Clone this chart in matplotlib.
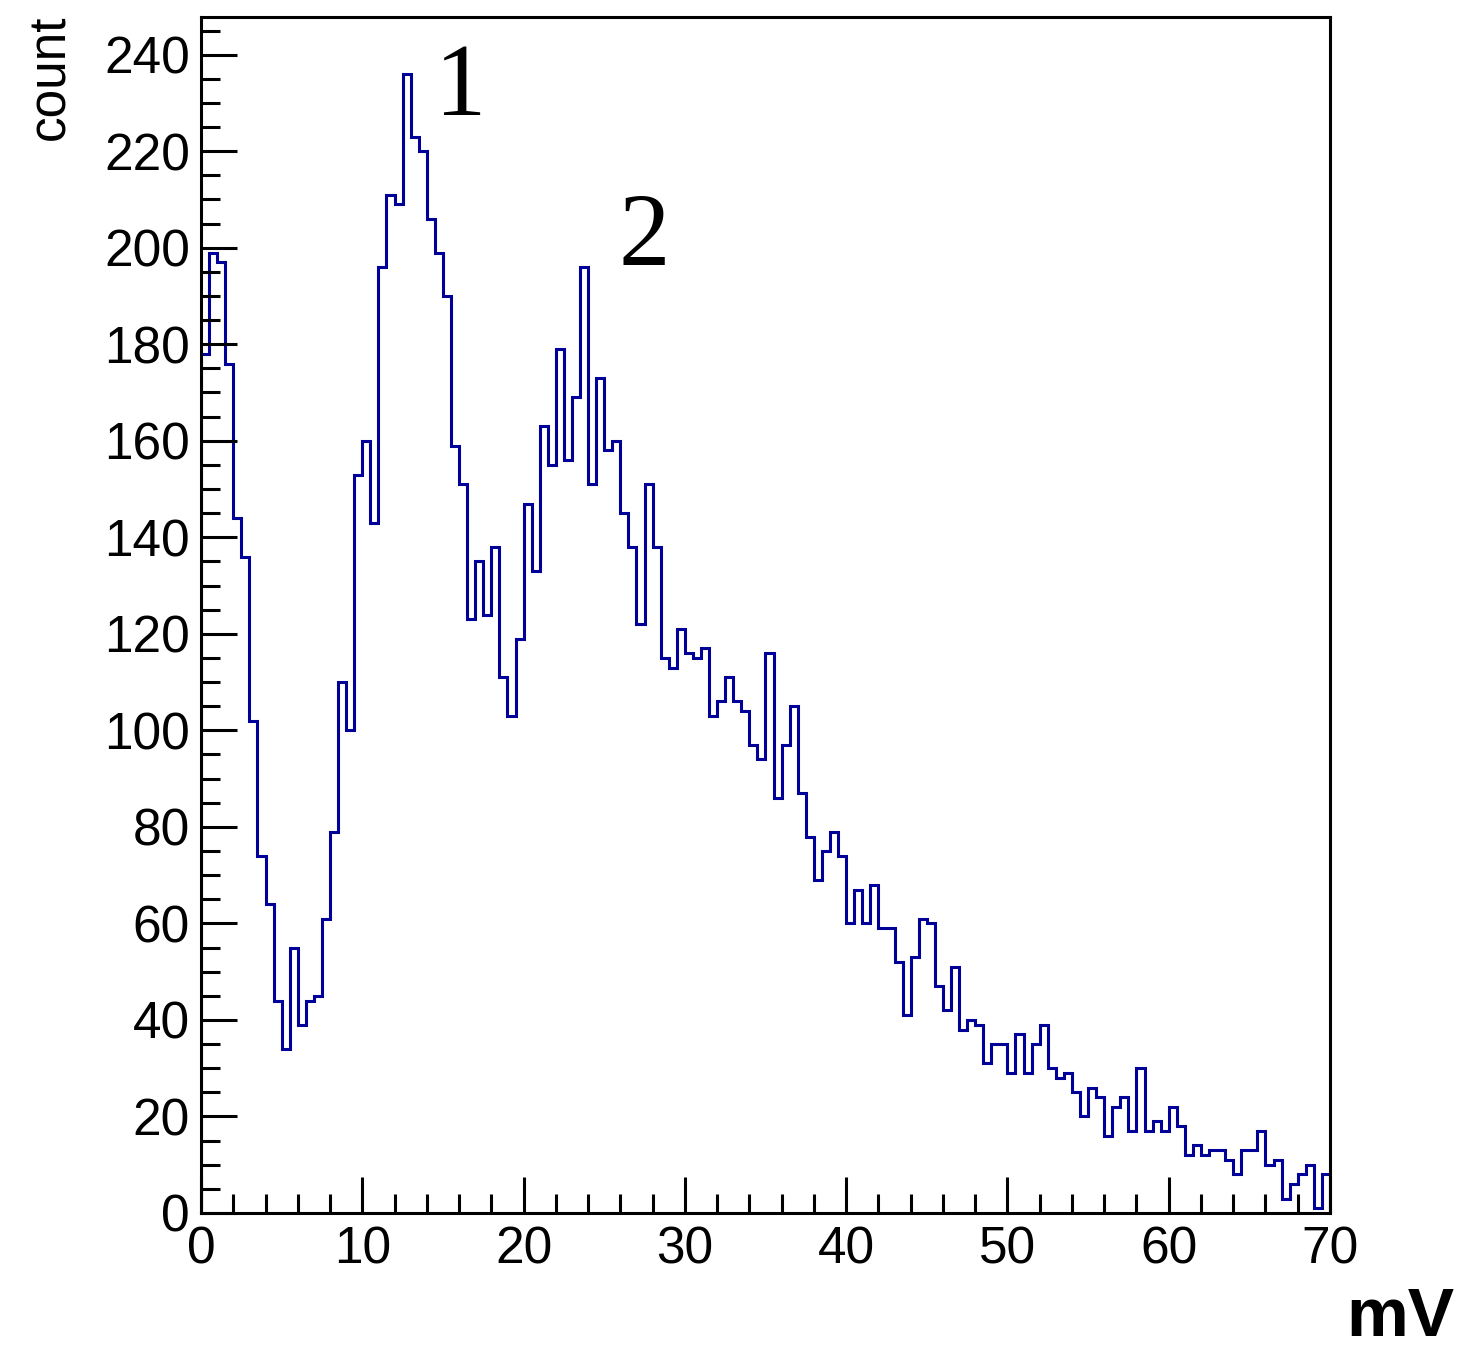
import numpy as np
import matplotlib
matplotlib.use('Agg')
import matplotlib.pyplot as plt
from matplotlib.ticker import MultipleLocator

# Histogram contents, 140 bins of 0.5 mV from 0 to 70
counts = [178, 199, 197, 176, 144, 136, 102, 74, 64, 44,
          34, 55, 39, 44, 45, 61, 79, 110, 100, 153,
          160, 143, 196, 211, 209, 236, 223, 220, 206, 199,
          190, 159, 151, 123, 135, 124, 138, 111, 103, 119,
          147, 133, 163, 155, 179, 156, 169, 196, 151, 173,
          158, 160, 145, 138, 122, 151, 138, 115, 113, 121,
          116, 115, 117, 103, 106, 111, 106, 104, 97, 94,
          116, 86, 97, 105, 87, 78, 69, 75, 79, 74,
          60, 67, 60, 68, 59, 59, 52, 41, 53, 61,
          60, 47, 42, 51, 38, 40, 39, 31, 35, 35,
          29, 37, 29, 35, 39, 30, 28, 29, 25, 20,
          26, 24, 16, 22, 24, 17, 30, 17, 19, 17,
          22, 18, 12, 14, 12, 13, 13, 11, 8, 13,
          13, 17, 10, 11, 3, 6, 8, 10, 1, 8]
x_min, x_max = 0, 70
edges = np.linspace(x_min, x_max, len(counts) + 1)

peak_labels = ['1', '2']
peak_pos = [(461, 115), (644, 265)]  # pixel positions (center x, baseline y)

plt.rcParams['font.family'] = ['Liberation Sans', 'DejaVu Sans']

W, H = 1459, 1352
fig = plt.figure(figsize=(W / 100, H / 100), dpi=100)
ax = fig.add_axes([201 / W, 1 - 1213 / H, (1330 - 201) / W, (1213 - 17) / H])

ax.stairs(counts, edges, color='#000099', linewidth=2.2, baseline=0)

ax.set_xlim(x_min, x_max)
ax.set_ylim(0, max(counts) * 1.05)

ax.xaxis.set_major_locator(MultipleLocator(10))
ax.xaxis.set_minor_locator(MultipleLocator(2))
ax.yaxis.set_major_locator(MultipleLocator(20))
ax.yaxis.set_minor_locator(MultipleLocator(5))
ax.tick_params(which='both', direction='in', top=False, right=False,
               width=2.2, labelsize=37, colors='black')
ax.tick_params(which='major', length=26)
ax.tick_params(which='minor', length=14)
ax.tick_params(axis='y', pad=8)
ax.tick_params(axis='x', pad=9)
for s in ax.spines.values():
    s.set_linewidth(2.2)

fig.text(51 / W, 1 - 15 / H, 'count', rotation=90, ha='center', va='top',
         fontsize=37)
# axis title in the bottom right corner, kept inside the canvas
fig.text(1454 / W, 1 - 1350 / H, 'mV', ha='right', va='bottom',
         fontsize=50, fontweight='bold')

for lab, (px, py) in zip(peak_labels, peak_pos):
    fig.text(px / W, 1 - py / H, lab, ha='center', va='baseline',
             fontsize=74, family=['Liberation Serif', 'DejaVu Serif'])

fig.savefig('out.png', dpi=100)
